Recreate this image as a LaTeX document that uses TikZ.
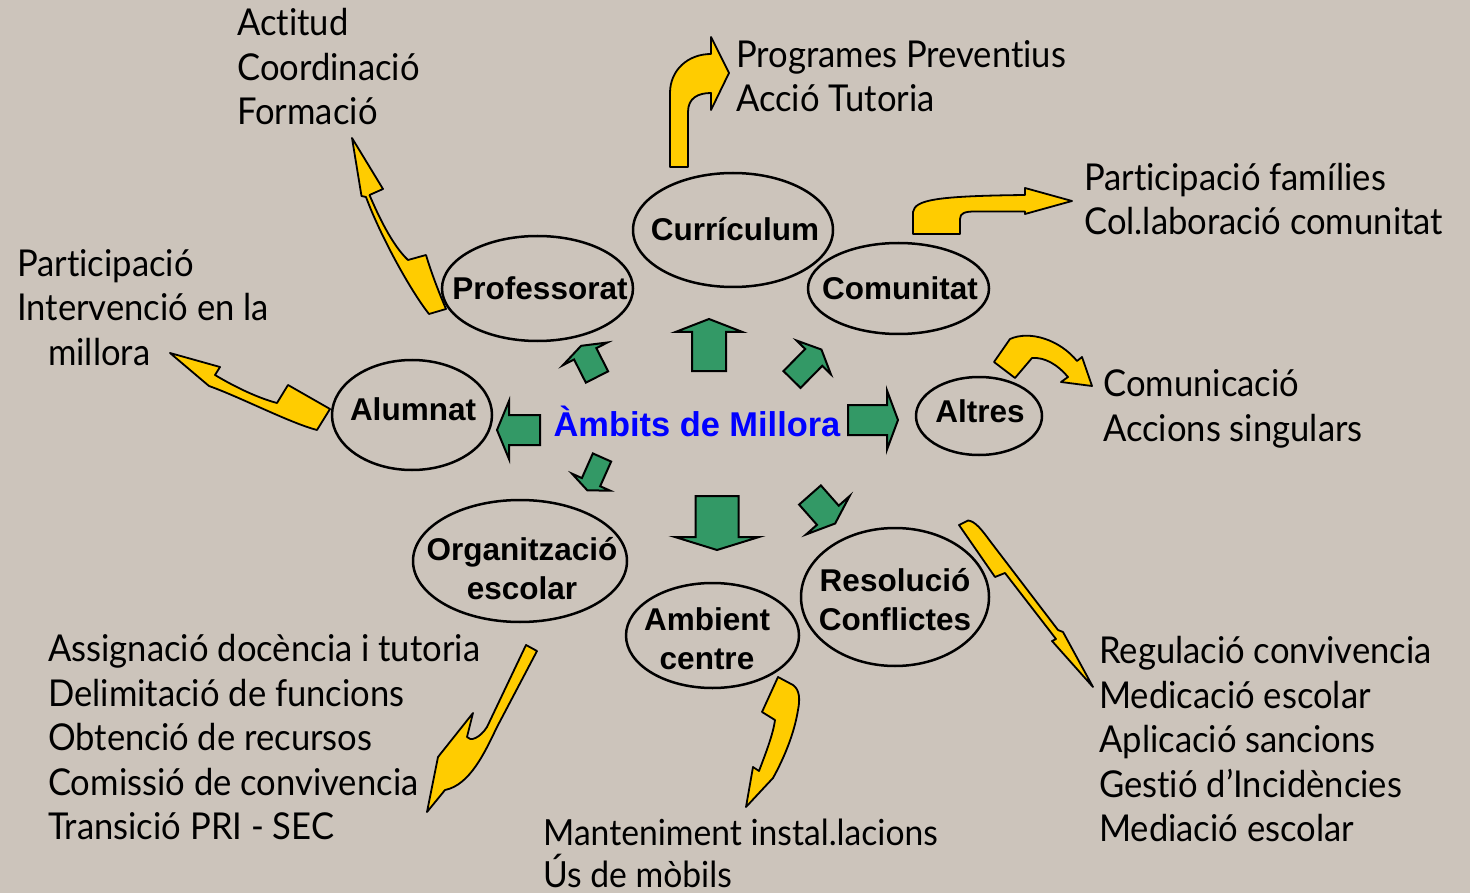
\documentclass[tikz,border=0pt]{standalone}
\usepackage{fontspec}
\setmainfont{Lato}[FakeStretch=0.935, RawFeature=-liga, RawFeature=-clig, RawFeature=-calt]
\newfontfamily\arialfont{Liberation Sans}
\usetikzlibrary{shapes.geometric}
\definecolor{bg}{RGB}{204,196,187}
\definecolor{grn}{RGB}{51,153,102}
\definecolor{yel}{RGB}{255,204,0}
\newcommand\gblock[7]{\draw[garrow, shift={(#1,#2)}, rotate=#3] (0,{-#5/2}) -- (#4,{-#5/2}) -- (#4,{-#6/2}) -- ({#4+#7},0) -- (#4,{#6/2}) -- (#4,{#5/2}) -- (0,{#5/2}) -- cycle;}
\newcommand\tisep{t\kern0pt i}
\tikzset{
  ell/.style={draw, line width=2.5pt, ellipse, inner sep=0pt},
  lab/.style={font=\arialfont\bfseries\fontsize{31.5}{39}\selectfont, anchor=base, inner sep=0pt},
  lst/.style={font=\fontsize{37}{44}\selectfont, anchor=base west, inner sep=0pt},
  lsts/.style={font=\fontsize{36}{42}\selectfont, anchor=base west, inner sep=0pt},
  garrow/.style={fill=grn, draw=black, line width=2pt, line join=miter},
  yarrow/.style={fill=yel, draw=black, line width=1.8pt, line join=round},
}
\begin{document}
\begin{tikzpicture}[x=1pt,y=-1pt]
\useasboundingbox (0,0) rectangle (1470,893);
\fill[bg] (0,0) rectangle (1470,893);

% ellipses
\node[ell, minimum width=200pt, minimum height=114pt] (curr) at (733,230) {};
\node[ell, minimum width=191pt, minimum height=105pt] (prof) at (537.5,288.5) {};
\node[ell, minimum width=181pt, minimum height=91pt] (com) at (898.5,288.5) {};
\node[ell, minimum width=160pt, minimum height=110pt] (alum) at (412,415) {};
\node[ell, minimum width=126pt, minimum height=78pt] (altr) at (979,416) {};
\node[ell, minimum width=214pt, minimum height=122pt] (org) at (520,561) {};
\node[ell, minimum width=173pt, minimum height=105pt] (amb) at (712.5,635.5) {};
\node[ell, minimum width=188pt, minimum height=138pt] (res) at (895,597) {};

% ellipse labels
\node[lab] (curr-t) at (735,241) {Currículum};
\node[lab] (prof-t) at (540,300) {Professorat};
\node[lab] (com-t) at (900,300) {Comunitat};
\node[lab] (alum-t) at (413,420) {Alumnat};
\node[lab] (altr-t) at (980,422) {Altres};
\node[lab] (org-t1) at (522,560) {Organització};
\node[lab] (org-t2) at (522,599) {escolar};
\node[lab] (amb-t1) at (707,630) {Ambient};
\node[lab] (amb-t2) at (707,669) {centre};
\node[lab] (res-t1) at (895,591) {Resolució};
\node[lab] (res-t2) at (895,630) {Conflictes};

% title
\node[font=\arialfont\bfseries\fontsize{34.4}{40}\selectfont, text=blue, anchor=base, inner sep=0pt] (title) at (697,436) {Àmbits de Millora};

% green arrows
\gblock{709}{371}{90}{39}{34}{67}{13}
\gblock{597}{377}{117}{26}{25}{50}{9}
\gblock{792}{379.5}{45.5}{31}{24}{48}{11}
\gblock{540}{430}{180}{31}{30}{58}{12}
\gblock{848}{420}{0}{39}{30}{59}{11}
\gblock{602}{457.5}{-114}{27}{20}{41.5}{9}
\gblock{717}{496}{-90}{41}{43}{84}{13}
\gblock{810}{495}{-48.6}{27}{29}{58}{11}

% yellow arrows
\draw[yarrow] (670,167) -- (670,93) .. controls (670,70) and (688,54) .. (711,54) -- (711,37) -- (729,73) -- (711,110) -- (711,93) .. controls (698,93) and (688,98) .. (688,112) -- (688,167) -- cycle;
\draw[yarrow] (913,234) -- (913,212) .. controls (915,200) and (935,196) .. (1025,195) -- (1025,188) -- (1072,201) -- (1025,214) -- (1025,211.5) -- (975,211.5) .. controls (965,211.5) and (960,213) .. (960,219) -- (960,234) -- cycle;
\draw[yarrow] (352,138) -- (383,189) -- (369.5,195) .. controls (378,215) and (392,245) .. (408,260) -- (426,255) .. controls (432,275) and (440,295) .. (446,309) -- (429,314) .. controls (410,290) and (380,235) .. (366,197) -- (361.5,196) -- cycle;
\draw[yarrow] (170,353) -- (220,367) -- (215,375) .. controls (235,387) and (258,398) .. (277,403) -- (288,385) -- (330,409) -- (317,430) .. controls (290,423) and (240,397) .. (209,386) -- cycle;
\draw[yarrow] (994,362) -- (1010,339) .. controls (1030,330) and (1060,340) .. (1077,361) -- (1082,357) -- (1092,386) -- (1061,382) -- (1068,377) .. controls (1058,365) and (1045,357) .. (1032,358) -- (1015,378) -- cycle;
\draw[yarrow] (959,525) -- (968,520.5) .. controls (975,521) and (982,530) .. (990,541) -- (1058,630) -- (1063,632) -- (1093,687) -- (1052,641) -- (1056,639) -- (1005,573) -- (995,577) -- cycle;
\draw[yarrow] (778,677) -- (793,685) .. controls (800,690) and (800,700) .. (798,710) .. controls (794,735) and (783,760) .. (773,778) -- (746,807) -- (753,767) -- (759,771) .. controls (765,755) and (773,735) .. (775,720) -- (762,712) -- cycle;
\draw[yarrow] (526,645) -- (537,651) -- (497,727) .. controls (485,752) and (470,785) .. (445,790) -- (427,812) -- (438,757) -- (473,713) -- (467,737) .. controls (470,742) and (480,738) .. (487,727) -- cycle;

% lists
\node[lst] (p1) at (237,36) {Ac\tisep tud};
\node[lst] (p2) at (237,80.5) {Coordinació};
\node[lst] (p3) at (237,125) {Formació};

\node[lst] (c1) at (736,67.5) {Programes Preven\tisep us};
\node[lst] (c2) at (736,112) {Acció Tutoria};

\node[lst] (m1) at (1084,190.5) {Par\tisep cipació famílies};
\node[lst] (m2) at (1084,235) {Col.laboració comunitat};

\node[lst] (a1) at (17,276.5) {Par\tisep cipació};
\node[lst] (a2) at (17,321) {Intervenció en la};
\node[lst] (a3) at (48,366) {millora};

\node[lst] (r1) at (1103,396.5) {Comunicació};
\node[lst] (r2) at (1103,441) {Accions singulars};

\node[lst] (o1) at (48,661.5) {Assignació docència i tutoria};
\node[lst] (o2) at (48,706) {Delimitació de funcions};
\node[lst] (o3) at (48,750.5) {Obtenció de recursos};
\node[lst] (o4) at (48,795) {Comissió de convivencia};
\node[lst] (o5) at (48,839.5) {Transició PRI - SEC};

\node[lsts] (b1) at (543,845) {Manteniment instal.lacions};
\node[lsts] (b2) at (543,887) {Ús de mòbils};

\node[lst] (s1) at (1099,663.5) {Regulació convivencia};
\node[lst] (s2) at (1099,708) {Medicació escolar};
\node[lst] (s3) at (1099,752.5) {Aplicació sancions};
\node[lst] (s4) at (1099,797) {Ges\tisep ó d’Incidències};
\node[lst] (s5) at (1099,841.5) {Mediació escolar};
\end{tikzpicture}
\end{document}
